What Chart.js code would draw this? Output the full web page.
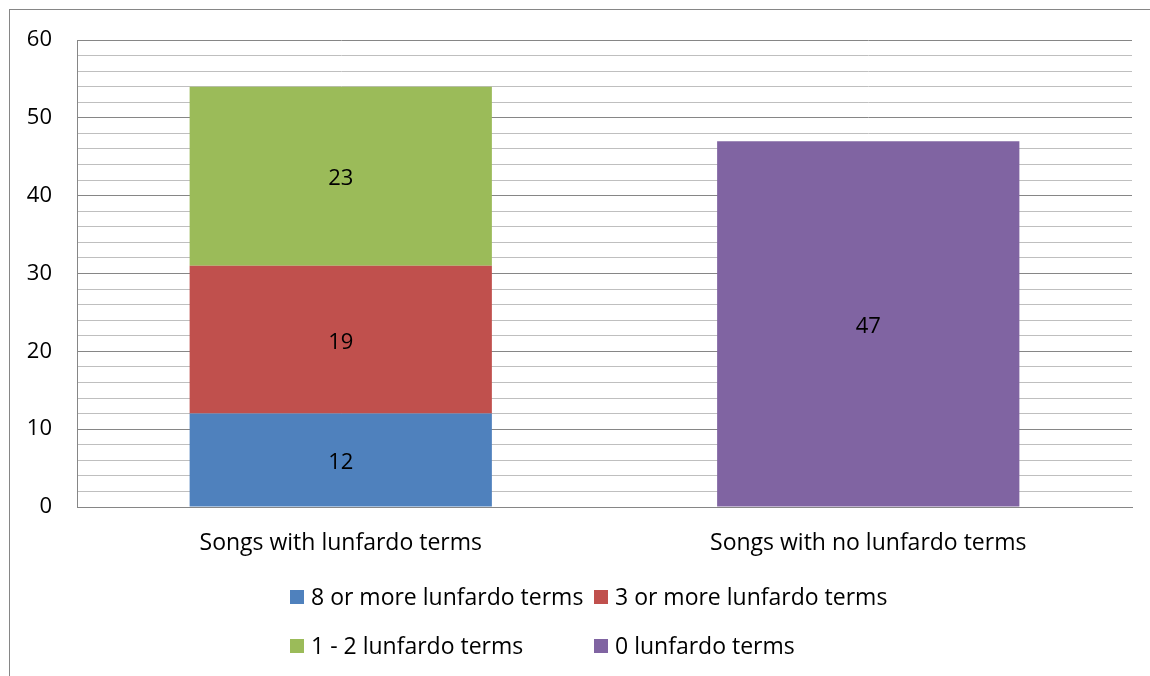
<!DOCTYPE html>
<html>
<head>
<meta charset="utf-8">
<script src="https://cdn.jsdelivr.net/npm/chart.js@4/dist/chart.umd.min.js"></script>
<style>
  html, body { margin: 0; padding: 0; background: #fff; }
  #wrap { position: relative; width: 1150px; height: 676px; }
</style>
</head>
<body>
<div id="wrap"><canvas id="c1" width="1150" height="676"></canvas></div>
<script>
  // data
  var categories = ['Songs with lunfardo terms', 'Songs with no lunfardo terms']
  var seriesNames = ['8 or more lunfardo terms', '3 or more lunfardo terms', '1 - 2 lunfardo terms', '0 lunfardo terms']
  var eightOrMore = [12, null]
  var threeOrMore = [19, null]
  var oneToTwo = [23, null]
  var zeroTerms = [null, 47]
  var colors = ['#4F81BD', '#C0504D', '#9BBB59', '#8064A2']
  var yMax = 60
  var yStep = 2
  var yLabelStep = 10

  var fontFamily = "'Open Sans', 'Liberation Sans', sans-serif"

  // border of the chart box (only top and left are in view)
  var frame = {
    id: 'frame',
    beforeDraw: function(chart) {
      var ctx = chart.ctx
      ctx.save()
      ctx.strokeStyle = '#868686'
      ctx.lineWidth = 1
      ctx.strokeRect(9.5, 9.5, 3000, 3000)
      ctx.restore()
    }
  }

  // numbers in the middle of each segment
  var segLabels = {
    id: 'segLabels',
    afterDatasetsDraw: function(chart) {
      var ctx = chart.ctx
      ctx.save()
      ctx.font = '22px ' + fontFamily
      ctx.fillStyle = '#000'
      ctx.textAlign = 'center'
      ctx.textBaseline = 'middle'
      chart.data.datasets.forEach(function(ds, i) {
        chart.getDatasetMeta(i).data.forEach(function(bar, j) {
          var v = ds.data[j]
          if (v == null) return
          var p = bar.getProps(['x', 'y', 'base'], true)
          ctx.fillText(String(v), p.x, (p.y + p.base) / 2 + 3)
        })
      })
      ctx.restore()
    }
  }

  // legend in two aligned columns
  var gridLegend = {
    id: 'gridLegend',
    afterDraw: function(chart) {
      var ctx = chart.ctx
      var colX = [290, 594]
      var rowY = [597, 646]
      ctx.save()
      ctx.font = '23px ' + fontFamily
      ctx.textBaseline = 'middle'
      ctx.textAlign = 'left'
      chart.data.datasets.forEach(function(ds, i) {
        var x = colX[i % 2]
        var y = rowY[Math.floor(i / 2)]
        ctx.fillStyle = ds.backgroundColor
        ctx.fillRect(x, y - 7, 14, 14)
        ctx.fillStyle = '#000'
        ctx.fillText(ds.label, x + 21, y + 1)
      })
      ctx.restore()
    }
  }

  var ctx = document.getElementById('c1')
  var chart1 = new Chart(ctx, {
    type: 'bar',
    data: {
      labels: categories,
      datasets: [{
        label: seriesNames[0],
        data: eightOrMore,
        backgroundColor: colors[0]
      }, {
        label: seriesNames[1],
        data: threeOrMore,
        backgroundColor: colors[1]
      }, {
        label: seriesNames[2],
        data: oneToTwo,
        backgroundColor: colors[2]
      }, {
        label: seriesNames[3],
        data: zeroTerms,
        backgroundColor: colors[3]
      }]
    },
    options: {
      responsive: false,
      animation: false,
      layout: { padding: { left: 0, top: 40, right: 18, bottom: 120 } },
      datasets: { bar: { barPercentage: 0.573, categoryPercentage: 1 } },
      plugins: {
        legend: { display: false },
        tooltip: { enabled: false }
      },
      scales: {
        x: {
          stacked: true,
          grid: { display: false, drawTicks: false },
          border: { color: '#868686', width: 1 },
          ticks: { color: '#000', font: { family: fontFamily, size: 23 }, padding: 23 },
          afterFit: function(scale) { scale.height = 49 }
        },
        y: {
          stacked: true,
          min: 0,
          max: yMax,
          grid: {
            drawTicks: false,
            color: function(c) {
              return c.tick && c.tick.value % yLabelStep === 0 ? '#868686' : '#bfbfbf'
            },
            lineWidth: 1
          },
          border: { color: '#868686', width: 1 },
          ticks: {
            stepSize: yStep,
            color: '#000',
            font: { family: fontFamily, size: 22 },
            padding: 25,
            autoSkip: false,
            callback: function(v) { return v % yLabelStep === 0 ? v : '' }
          },
          afterFit: function(scale) { scale.width = 77 }
        }
      }
    },
    plugins: [frame, segLabels, gridLegend]
  })
</script>
</body>
</html>
